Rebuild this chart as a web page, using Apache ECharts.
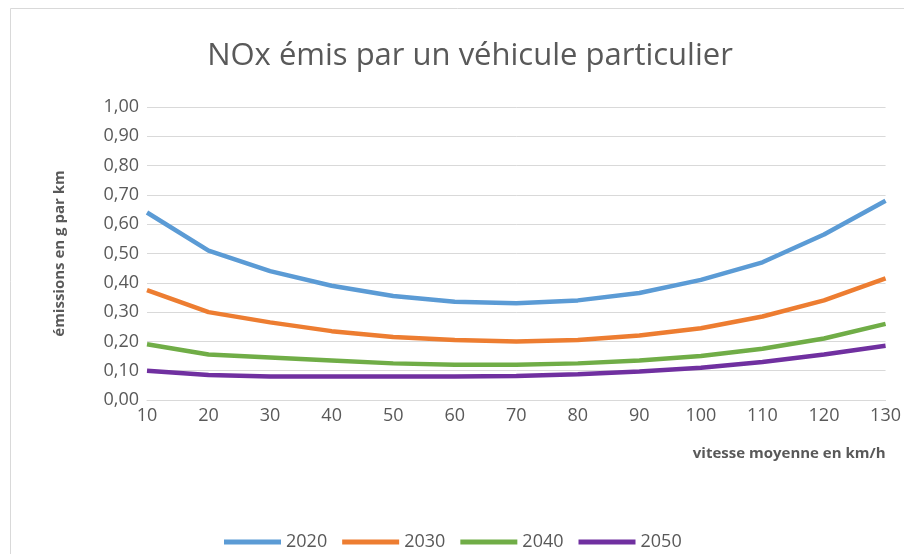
<!DOCTYPE html>
<html><head><meta charset="utf-8">
<script src="https://cdn.jsdelivr.net/npm/echarts@6/dist/echarts.min.js"></script>
<style>html,body{margin:0;padding:0;background:#fff}#c{width:904px;height:554px}</style>
</head><body><div id="c"></div>
<script>
const speeds = ['10','20','30','40','50','60','70','80','90','100','110','120','130'];
const s2020 = [0.64,0.51,0.44,0.39,0.355,0.335,0.33,0.34,0.365,0.41,0.47,0.565,0.68];
const s2030 = [0.375,0.30,0.265,0.235,0.215,0.205,0.20,0.205,0.22,0.245,0.285,0.34,0.415];
const s2040 = [0.19,0.155,0.145,0.135,0.125,0.12,0.12,0.125,0.135,0.15,0.175,0.21,0.26];
const s2050 = [0.10,0.085,0.08,0.08,0.08,0.08,0.082,0.088,0.097,0.11,0.13,0.155,0.185];
const seriesNames = ['2020','2030','2040','2050'];
const colors = ['#5B9BD5','#ED7D31','#70AD47','#7030A0'];
const font = '"Open Sans", "Liberation Sans", sans-serif';
const chart = echarts.init(document.getElementById('c'));
const data = [s2020,s2030,s2040,s2050];
chart.setOption({
  animation:false,
  color: colors,
  graphic:[{type:'rect',shape:{x:10.5,y:8.5,width:1000,height:1000},style:{fill:'none',stroke:'#d9d9d9',lineWidth:1}}],
  title:{text:'NOx émis par un véhicule particulier',left:465,top:36,textAlign:'center',
    textStyle:{fontFamily:font,fontSize:31,fontWeight:'normal',color:'#595959'}},
  grid:{left:147,right:18,top:107,bottom:154},
  legend:{top:528,left:219,itemWidth:57,itemHeight:5,itemGap:15,icon:'rect',
    textStyle:{fontFamily:font,fontSize:18,color:'#595959',padding:[0,0,0,0]},data:seriesNames},
  xAxis:{type:'category',data:speeds,boundaryGap:false,
    name:'vitesse moyenne en km/h',nameLocation:'end',nameGap:0,
    nameTextStyle:{fontFamily:font,fontSize:15,fontWeight:'bold',color:'#595959',align:'right',verticalAlign:'top',padding:[46,0,0,0]},
    axisLine:{show:true,lineStyle:{color:'#d9d9d9'}},axisTick:{show:false},
    axisLabel:{fontFamily:font,fontSize:18,color:'#595959',margin:7}},
  yAxis:{type:'value',min:0,max:1,interval:0.1,
    name:'émissions en g par km',nameLocation:'middle',nameGap:80,
    nameTextStyle:{fontFamily:font,fontSize:15,fontWeight:'bold',color:'#595959'},
    axisLabel:{fontFamily:font,fontSize:18,color:'#595959',margin:8,
      formatter:v=>v.toFixed(2).replace('.',',')},
    splitLine:{lineStyle:{color:'#d9d9d9',width:1}}},
  series: seriesNames.map((n,i)=>({name:n,type:'line',data:data[i],showSymbol:false,symbol:'none',
    lineStyle:{width:4.5,color:colors[i]}}))
});
</script></body></html>
